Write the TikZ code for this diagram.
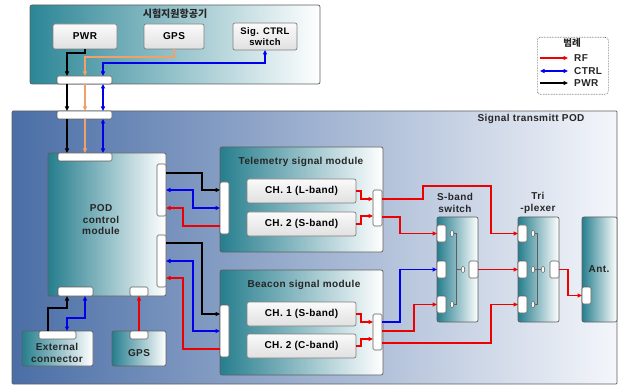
\documentclass[tikz,border=0pt]{standalone}
\usepackage{fontspec}
\setmainfont{Liberation Sans}[LetterSpace=4]
\newfontfamily\krfont{Noto Sans CJK KR}
\usetikzlibrary{arrows.meta,calc}
\definecolor{tealL}{RGB}{38,126,142}
\definecolor{topL}{RGB}{44,134,150}
\definecolor{podL}{RGB}{74,110,166}
\definecolor{podR}{RGB}{244,246,250}
\definecolor{rfc}{RGB}{238,0,0}
\definecolor{ctc}{RGB}{0,0,235}
\definecolor{gpsc}{RGB}{240,160,104}
\definecolor{edge}{RGB}{95,95,95}
\newcommand\mybox[7]{\node[#1,anchor=north west,minimum width={(#5-#3)*1pt},minimum height={(#6-#4)*1pt}] (#2) at (#3,#4) {#7};}
\begin{document}
\begin{tikzpicture}[x=1pt,y=-1pt,
  font=\bfseries\fontsize{10}{11.5}\selectfont,
  base/.style={inner sep=0pt,outer sep=0pt,draw=edge,line width=0.7pt,rounded corners=2pt},
  tealbox/.style={base,left color=tealL,right color=white},
  topbox/.style={base,left color=topL,right color=white},
  podbox/.style={base,left color=podL,right color=podR,rounded corners=1pt},
  graybox/.style={base,top color=gray!4,bottom color=gray!24,draw=gray},
  port/.style={base,fill=white,line width=0.6pt,rounded corners=1.5pt},
  lbl/.style={inner sep=0pt,align=center,text=black!85},
  tip/.style={-{Triangle[length=4.5pt,width=4pt]}},
  tips/.style={{Triangle[length=4.5pt,width=4pt]}-{Triangle[length=4.5pt,width=4pt]}},
  conn/.style={line width=1.4pt},
  rf/.style={conn,draw=rfc},
  ctl/.style={conn,draw=ctc},
  pwr/.style={conn,draw=black},
  gp/.style={conn,draw=gpsc},
  inner/.style={draw=edge,line width=0.6pt},
  circ/.style={draw=edge,fill=white,line width=0.5pt}
]
\useasboundingbox (0,0) rectangle (619,385);
% ---------- top (aircraft) ----------
\mybox{topbox}{top}{30}{5}{320}{84}{}
\node[lbl,font=\krfont\bfseries\fontsize{10}{12}\selectfont] (ttop) at (175,14) {시험지원항공기};
\mybox{graybox}{pwrB}{53}{24}{117}{49}{PWR}
\mybox{graybox}{gpsB}{144}{24}{204}{49}{GPS}
\mybox{graybox,align=center,font=\bfseries\fontsize{9.5}{10.5}\selectfont}{sigB}{233}{23}{297}{50}{Sig. CTRL\\switch}
\mybox{port}{bar1}{57}{76}{112}{84}{}
% ---------- POD ----------
\mybox{podbox}{pod}{12}{111}{617}{384}{}
\mybox{port}{bar2}{57}{111}{112}{119}{}
\node[lbl] (tpod) at (531,119) {Signal transmitt POD};
% legend
\node[draw=black!70,densely dotted,rounded corners=3pt,line width=0.6pt,inner sep=0pt,anchor=north west,minimum width=71pt,minimum height=57pt,fill=white] (leg) at (537,37) {};
\node[lbl,font=\krfont\bfseries\fontsize{9.5}{11}\selectfont] (tleg) at (572,43) {범례};
\coordinate (l1a) at (540,58); \coordinate (l1b) at (568,58);
\coordinate (l2a) at (540,71); \coordinate (l2b) at (568,71);
\coordinate (l3a) at (540,83); \coordinate (l3b) at (568,83);
\draw[rf,tip,line width=1.2pt] (l1a) -- (l1b);
\draw[ctl,tips,line width=1.2pt] (l2a) -- (l2b);
\draw[pwr,tip,line width=1.2pt] (l3a) -- (l3b);
\node[lbl,anchor=west] (trf) at (574,58) {RF};
\node[lbl,anchor=west] (tctrl) at (574,71) {CTRL};
\node[lbl,anchor=west] (tpwr) at (574,83) {PWR};
% POD control module
\mybox{tealbox}{podc}{48}{153}{166}{296}{}
\node[lbl] (tpodc) at (101,220) {POD\\control\\module};
\mybox{port}{podtop}{58}{153}{112}{161}{}
\mybox{port}{podr1}{157}{164}{166}{216}{}
\mybox{port}{podr2}{157}{235}{166}{287}{}
\mybox{port}{podb1}{58}{287}{93}{296}{}
\mybox{port}{podb2}{130}{287}{148}{296}{}
% external connector, GPS
\mybox{tealbox}{ext}{22}{331}{93}{366}{}
\node[lbl] (text) at (57,353) {External\\connector};
\mybox{port}{extbar}{39}{331}{76}{339}{}
\mybox{tealbox}{gpsL}{112}{331}{166}{366}{}
\node[lbl] (tgps) at (139,353) {GPS};
\mybox{port}{gpsbar}{130}{331}{148}{339}{}
% telemetry
\mybox{tealbox}{tel}{220}{147}{383}{252}{}
\node[lbl] (ttel) at (301,162) {Telemetry signal module};
\mybox{graybox}{tch1}{247}{179}{356}{203}{CH. 1 (L-band)}
\mybox{graybox}{tch2}{247}{212}{356}{236}{CH. 2 (S-band)}
\mybox{port}{telL}{220}{182}{229}{234}{}
\mybox{port}{telR}{373}{190}{382}{226}{}
% beacon
\mybox{tealbox}{bea}{220}{270}{383}{375}{}
\node[lbl] (tbea) at (304,285) {Beacon signal module};
\mybox{graybox}{bch1}{247}{302}{356}{326}{CH. 1 (S-band)}
\mybox{graybox}{bch2}{247}{334}{356}{358}{CH. 2 (C-band)}
\mybox{port}{beaL}{220}{305}{229}{357}{}
\mybox{port}{beaR}{373}{314}{382}{350}{}
% S-band switch
\node[lbl] (tsw) at (455,203) {S-band\\switch};
\mybox{tealbox}{sw}{437}{217}{478}{322}{}
\mybox{port}{swp1}{437}{225}{446}{242}{}
\mybox{port}{swp2}{437}{261}{446}{278}{}
\mybox{port}{swp3}{437}{296}{446}{313}{}
\mybox{port}{swR}{469}{261}{478}{278}{}
\draw[inner] (453.8,233.5) -- (456.5,233.5) -- (456.5,304.5) -- (453.8,304.5);
\draw[inner] (456.5,269.5) -- (461.2,269.5);
\draw[circ] (452,233.5) ellipse (1.8 and 3);
\draw[circ] (452,304.5) ellipse (1.8 and 3);
\draw[circ] (463,269.5) ellipse (1.8 and 3);
% Triplexer
\node[lbl] (ttri) at (538,203) {Tri\\-plexer};
\mybox{tealbox}{tri}{518}{217}{559}{322}{}
\mybox{port}{trp1}{518}{225}{527}{242}{}
\mybox{port}{trp2}{518}{261}{527}{278}{}
\mybox{port}{trp3}{518}{296}{527}{313}{}
\mybox{port}{trR}{550}{261}{559}{278}{}
\draw[inner] (534.8,233.5) -- (537.5,233.5) -- (537.5,304.5) -- (534.8,304.5);
\draw[inner] (534.8,269.5) -- (541.2,269.5);
\draw[circ] (533,233.5) ellipse (1.8 and 3);
\draw[circ] (533,269.5) ellipse (1.8 and 3);
\draw[circ] (533,304.5) ellipse (1.8 and 3);
\draw[circ] (543,269.5) ellipse (1.8 and 3);
% Antenna
\mybox{tealbox}{ant}{582}{217}{617}{322}{}
\node[lbl] (tant) at (599,269) {Ant.};
\mybox{port}{antp}{582}{287}{591}{304}{}
% ---------- connectors ----------
\coordinate (xa) at (67,0); \coordinate (xb) at (85,0); \coordinate (xc) at (103,0);
\draw[pwr,tip] (pwrB.south) -- ++(0,4) -| (bar1.north -| xa);
\draw[gp,tip] (gpsB.south) -- ++(0,8) -| (bar1.north -| xb);
\draw[ctl,tips] (sigB.south) -- ++(0,13) -| (bar1.north -| xc);
\draw[pwr,tip] (bar1.south -| xa) -- (bar2.north -| xa);
\draw[gp,tip] (bar1.south -| xb) -- (bar2.north -| xb);
\draw[ctl,tips] (bar1.south -| xc) -- (bar2.north -| xc);
\draw[pwr,tip] (bar2.south -| xa) -- (podtop.north -| xa);
\draw[gp,tip] (bar2.south -| xb) -- (podtop.north -| xb);
\draw[ctl,tips] (bar2.south -| xc) -- (podtop.north -| xc);
% POD -> telemetry
\draw[pwr,tip] (podr1.east |- 0,173) -| (202,190) -- (telL.west |- 0,190);
\draw[ctl,tips] (podr1.east |- 0,190) -| (193,208) -- (telL.west |- 0,208);
\draw[rf,tip] (telL.west |- 0,226) -| (183,208) -- (podr1.east |- 0,208);
% POD -> beacon
\draw[pwr,tip] (podr2.east |- 0,243) -| (202,314) -- (beaL.west |- 0,314);
\draw[ctl,tips] (podr2.east |- 0,261) -| (193,331) -- (beaL.west |- 0,331);
\draw[rf,tip] (beaL.west |- 0,349) -| (183,278) -- (podr2.east |- 0,278);
% bottom
\draw[pwr,tip] (extbar.north -| 48,0) |- (67,308) -- (podb1.south -| xa);
\draw[ctl,tips] (podb1.south -| xb) |- (67,318) -- (extbar.north -| xa);
\draw[rf,tip] (gpsbar.north) -- (gpsbar.north |- podb2.south);
% module internals
\draw[rf,tip] (tch1.east) -| (361,199) -- (telR.west |- 0,199);
\draw[rf,tip] (tch2.east) -| (361,216) -- (telR.west |- 0,216);
\draw[rf,tip] (bch1.east) -| (361,322) -- (beaR.west |- 0,322);
\draw[rf,tip] (bch2.east) -| (361,339) -- (beaR.west |- 0,339);
% to switch / triplexer
\draw[rf,tip] (telR.east |- 0,199) -| (423,186) -| (trp1.west -| 491,0) -- (trp1.west);
\draw[rf,tip] (telR.east |- 0,217) -| (swp1.west -| 400,0) -- (swp1.west);
\draw[ctl,tip] (beaR.east |- 0,322) -| (swp2.west -| 400,0) -- (swp2.west);
\draw[rf,tip] (beaR.east |- 0,331) -| (swp3.west -| 414,0) -- (swp3.west);
\draw[rf,tip] (beaR.east |- 0,343) -| (trp3.west -| 491,0) -- (trp3.west);
\draw[rf,tip] (swR.east) -- (trp2.west);
\draw[rf,tip] (trR.east) -| (antp.west -| 568,0) -- (antp.west);
\end{tikzpicture}
\end{document}
